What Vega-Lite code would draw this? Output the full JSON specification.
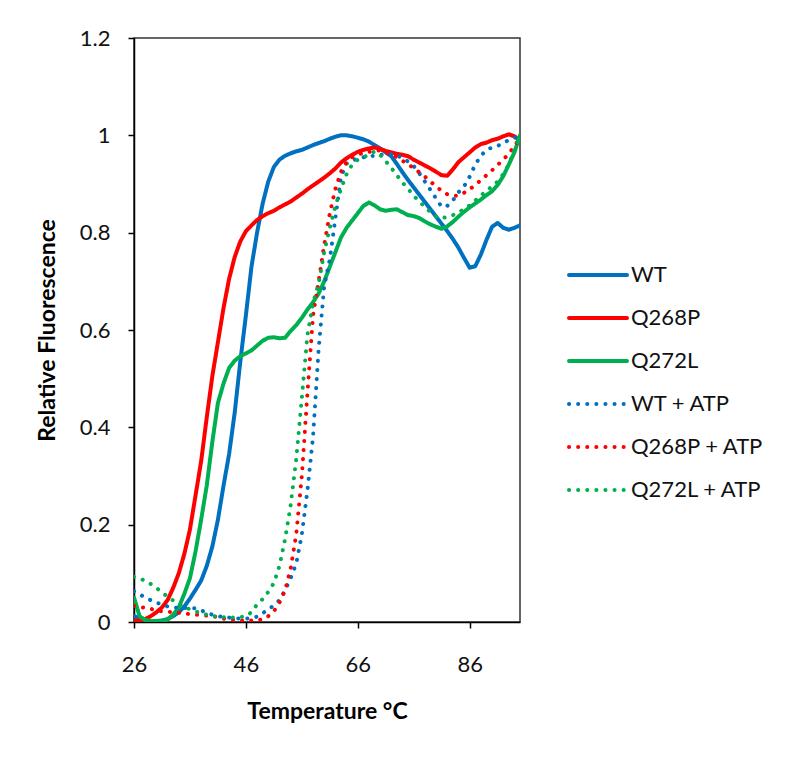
{
  "$schema": "https://vega.github.io/schema/vega-lite/v6.json",
  "width": 386,
  "height": 584,
  "autosize": {"type": "none"},
  "padding": {"left": 134, "top": 38, "right": 280, "bottom": 139},
  "background": "white",
  "config": {
    "view": {"stroke": "#333", "strokeWidth": 1.5},
    "font": "Lato"
  },
  "data": {
    "values": [
      {"t":26,"WT":0.012,"Q268P":0.003,"Q272L":0.05,"WT + ATP":0.063,"Q268P + ATP":0.033,"Q272L + ATP":0.093},
      {"t":27,"WT":0.008,"Q268P":0.003,"Q272L":0.012,"WT + ATP":0.057,"Q268P + ATP":0.031,"Q272L + ATP":0.089},
      {"t":28,"WT":0.004,"Q268P":0.006,"Q272L":0.004,"WT + ATP":0.05,"Q268P + ATP":0.029,"Q272L + ATP":0.085},
      {"t":29,"WT":0.002,"Q268P":0.012,"Q272L":0.002,"WT + ATP":0.045,"Q268P + ATP":0.027,"Q272L + ATP":0.078},
      {"t":30,"WT":0.002,"Q268P":0.02,"Q272L":0.002,"WT + ATP":0.04,"Q268P + ATP":0.024,"Q272L + ATP":0.07},
      {"t":31,"WT":0.003,"Q268P":0.03,"Q272L":0.002,"WT + ATP":0.036,"Q268P + ATP":0.022,"Q272L + ATP":0.061},
      {"t":32,"WT":0.006,"Q268P":0.045,"Q272L":0.005,"WT + ATP":0.032,"Q268P + ATP":0.021,"Q272L + ATP":0.052},
      {"t":33,"WT":0.012,"Q268P":0.07,"Q272L":0.015,"WT + ATP":0.03,"Q268P + ATP":0.02,"Q272L + ATP":0.044},
      {"t":34,"WT":0.02,"Q268P":0.1,"Q272L":0.03,"WT + ATP":0.029,"Q268P + ATP":0.019,"Q272L + ATP":0.037},
      {"t":35,"WT":0.032,"Q268P":0.14,"Q272L":0.058,"WT + ATP":0.029,"Q268P + ATP":0.018,"Q272L + ATP":0.031},
      {"t":36,"WT":0.048,"Q268P":0.19,"Q272L":0.09,"WT + ATP":0.029,"Q268P + ATP":0.016,"Q272L + ATP":0.026},
      {"t":37,"WT":0.066,"Q268P":0.26,"Q272L":0.145,"WT + ATP":0.028,"Q268P + ATP":0.015,"Q272L + ATP":0.022},
      {"t":38,"WT":0.085,"Q268P":0.33,"Q272L":0.21,"WT + ATP":0.024,"Q268P + ATP":0.014,"Q272L + ATP":0.018},
      {"t":39,"WT":0.115,"Q268P":0.42,"Q272L":0.28,"WT + ATP":0.019,"Q268P + ATP":0.013,"Q272L + ATP":0.015},
      {"t":40,"WT":0.155,"Q268P":0.505,"Q272L":0.37,"WT + ATP":0.015,"Q268P + ATP":0.012,"Q272L + ATP":0.012},
      {"t":41,"WT":0.21,"Q268P":0.575,"Q272L":0.45,"WT + ATP":0.012,"Q268P + ATP":0.01,"Q272L + ATP":0.011},
      {"t":42,"WT":0.28,"Q268P":0.645,"Q272L":0.49,"WT + ATP":0.01,"Q268P + ATP":0.007,"Q272L + ATP":0.01},
      {"t":43,"WT":0.345,"Q268P":0.705,"Q272L":0.522,"WT + ATP":0.009,"Q268P + ATP":0.005,"Q272L + ATP":0.009},
      {"t":44,"WT":0.43,"Q268P":0.75,"Q272L":0.537,"WT + ATP":0.008,"Q268P + ATP":0.004,"Q272L + ATP":0.009},
      {"t":45,"WT":0.535,"Q268P":0.782,"Q272L":0.546,"WT + ATP":0.007,"Q268P + ATP":0.003,"Q272L + ATP":0.01},
      {"t":46,"WT":0.63,"Q268P":0.803,"Q272L":0.552,"WT + ATP":0.007,"Q268P + ATP":0.003,"Q272L + ATP":0.012},
      {"t":47,"WT":0.73,"Q268P":0.815,"Q272L":0.558,"WT + ATP":0.008,"Q268P + ATP":0.003,"Q272L + ATP":0.02},
      {"t":48,"WT":0.8,"Q268P":0.826,"Q272L":0.568,"WT + ATP":0.011,"Q268P + ATP":0.004,"Q272L + ATP":0.036},
      {"t":49,"WT":0.86,"Q268P":0.834,"Q272L":0.578,"WT + ATP":0.018,"Q268P + ATP":0.005,"Q272L + ATP":0.047},
      {"t":50,"WT":0.905,"Q268P":0.84,"Q272L":0.584,"WT + ATP":0.026,"Q268P + ATP":0.012,"Q272L + ATP":0.062},
      {"t":51,"WT":0.935,"Q268P":0.845,"Q272L":0.585,"WT + ATP":0.034,"Q268P + ATP":0.022,"Q272L + ATP":0.08},
      {"t":52,"WT":0.95,"Q268P":0.852,"Q272L":0.583,"WT + ATP":0.045,"Q268P + ATP":0.04,"Q272L + ATP":0.115},
      {"t":53,"WT":0.958,"Q268P":0.858,"Q272L":0.584,"WT + ATP":0.065,"Q268P + ATP":0.065,"Q272L + ATP":0.17},
      {"t":54,"WT":0.963,"Q268P":0.864,"Q272L":0.598,"WT + ATP":0.09,"Q268P + ATP":0.11,"Q272L + ATP":0.24},
      {"t":55,"WT":0.967,"Q268P":0.872,"Q272L":0.61,"WT + ATP":0.12,"Q268P + ATP":0.18,"Q272L + ATP":0.335},
      {"t":56,"WT":0.97,"Q268P":0.88,"Q272L":0.625,"WT + ATP":0.18,"Q268P + ATP":0.3,"Q272L + ATP":0.46},
      {"t":57,"WT":0.975,"Q268P":0.889,"Q272L":0.642,"WT + ATP":0.27,"Q268P + ATP":0.47,"Q272L + ATP":0.59},
      {"t":58,"WT":0.98,"Q268P":0.897,"Q272L":0.657,"WT + ATP":0.38,"Q268P + ATP":0.63,"Q272L + ATP":0.655},
      {"t":59,"WT":0.984,"Q268P":0.905,"Q272L":0.675,"WT + ATP":0.56,"Q268P + ATP":0.7,"Q272L + ATP":0.695},
      {"t":60,"WT":0.988,"Q268P":0.913,"Q272L":0.7,"WT + ATP":0.69,"Q268P + ATP":0.775,"Q272L + ATP":0.76},
      {"t":61,"WT":0.993,"Q268P":0.922,"Q272L":0.73,"WT + ATP":0.745,"Q268P + ATP":0.84,"Q272L + ATP":0.81},
      {"t":62,"WT":0.997,"Q268P":0.932,"Q272L":0.76,"WT + ATP":0.83,"Q268P + ATP":0.89,"Q272L + ATP":0.855},
      {"t":63,"WT":1.0,"Q268P":0.944,"Q272L":0.79,"WT + ATP":0.915,"Q268P + ATP":0.925,"Q272L + ATP":0.89},
      {"t":64,"WT":1.0,"Q268P":0.953,"Q272L":0.81,"WT + ATP":0.942,"Q268P + ATP":0.945,"Q272L + ATP":0.92},
      {"t":65,"WT":0.998,"Q268P":0.96,"Q272L":0.825,"WT + ATP":0.948,"Q268P + ATP":0.955,"Q272L + ATP":0.94},
      {"t":66,"WT":0.995,"Q268P":0.966,"Q272L":0.84,"WT + ATP":0.952,"Q268P + ATP":0.96,"Q272L + ATP":0.95},
      {"t":67,"WT":0.992,"Q268P":0.97,"Q272L":0.855,"WT + ATP":0.955,"Q268P + ATP":0.964,"Q272L + ATP":0.955},
      {"t":68,"WT":0.987,"Q268P":0.973,"Q272L":0.862,"WT + ATP":0.957,"Q268P + ATP":0.966,"Q272L + ATP":0.96},
      {"t":69,"WT":0.98,"Q268P":0.975,"Q272L":0.856,"WT + ATP":0.958,"Q268P + ATP":0.968,"Q272L + ATP":0.967},
      {"t":70,"WT":0.973,"Q268P":0.972,"Q272L":0.848,"WT + ATP":0.96,"Q268P + ATP":0.969,"Q272L + ATP":0.96},
      {"t":71,"WT":0.965,"Q268P":0.968,"Q272L":0.845,"WT + ATP":0.961,"Q268P + ATP":0.965,"Q272L + ATP":0.947},
      {"t":72,"WT":0.957,"Q268P":0.965,"Q272L":0.847,"WT + ATP":0.962,"Q268P + ATP":0.96,"Q272L + ATP":0.933},
      {"t":73,"WT":0.941,"Q268P":0.962,"Q272L":0.848,"WT + ATP":0.958,"Q268P + ATP":0.955,"Q272L + ATP":0.918},
      {"t":74,"WT":0.924,"Q268P":0.96,"Q272L":0.842,"WT + ATP":0.954,"Q268P + ATP":0.948,"Q272L + ATP":0.903},
      {"t":75,"WT":0.908,"Q268P":0.957,"Q272L":0.836,"WT + ATP":0.946,"Q268P + ATP":0.94,"Q272L + ATP":0.89},
      {"t":76,"WT":0.893,"Q268P":0.95,"Q272L":0.834,"WT + ATP":0.937,"Q268P + ATP":0.933,"Q272L + ATP":0.876},
      {"t":77,"WT":0.878,"Q268P":0.944,"Q272L":0.83,"WT + ATP":0.922,"Q268P + ATP":0.924,"Q272L + ATP":0.864},
      {"t":78,"WT":0.863,"Q268P":0.938,"Q272L":0.823,"WT + ATP":0.905,"Q268P + ATP":0.915,"Q272L + ATP":0.853},
      {"t":79,"WT":0.848,"Q268P":0.932,"Q272L":0.817,"WT + ATP":0.888,"Q268P + ATP":0.905,"Q272L + ATP":0.842},
      {"t":80,"WT":0.833,"Q268P":0.925,"Q272L":0.812,"WT + ATP":0.87,"Q268P + ATP":0.895,"Q272L + ATP":0.833},
      {"t":81,"WT":0.818,"Q268P":0.918,"Q272L":0.808,"WT + ATP":0.853,"Q268P + ATP":0.886,"Q272L + ATP":0.83},
      {"t":82,"WT":0.803,"Q268P":0.917,"Q272L":0.813,"WT + ATP":0.855,"Q268P + ATP":0.879,"Q272L + ATP":0.832},
      {"t":83,"WT":0.787,"Q268P":0.93,"Q272L":0.822,"WT + ATP":0.866,"Q268P + ATP":0.876,"Q272L + ATP":0.836},
      {"t":84,"WT":0.769,"Q268P":0.945,"Q272L":0.833,"WT + ATP":0.883,"Q268P + ATP":0.876,"Q272L + ATP":0.842},
      {"t":85,"WT":0.748,"Q268P":0.955,"Q272L":0.843,"WT + ATP":0.895,"Q268P + ATP":0.882,"Q272L + ATP":0.848},
      {"t":86,"WT":0.728,"Q268P":0.965,"Q272L":0.852,"WT + ATP":0.915,"Q268P + ATP":0.889,"Q272L + ATP":0.856},
      {"t":87,"WT":0.731,"Q268P":0.975,"Q272L":0.86,"WT + ATP":0.94,"Q268P + ATP":0.898,"Q272L + ATP":0.866},
      {"t":88,"WT":0.755,"Q268P":0.982,"Q272L":0.868,"WT + ATP":0.958,"Q268P + ATP":0.908,"Q272L + ATP":0.876},
      {"t":89,"WT":0.785,"Q268P":0.985,"Q272L":0.877,"WT + ATP":0.97,"Q268P + ATP":0.918,"Q272L + ATP":0.886},
      {"t":90,"WT":0.812,"Q268P":0.99,"Q272L":0.885,"WT + ATP":0.975,"Q268P + ATP":0.928,"Q272L + ATP":0.895},
      {"t":91,"WT":0.82,"Q268P":0.993,"Q272L":0.898,"WT + ATP":0.978,"Q268P + ATP":0.939,"Q272L + ATP":0.905},
      {"t":92,"WT":0.81,"Q268P":0.998,"Q272L":0.916,"WT + ATP":0.985,"Q268P + ATP":0.95,"Q272L + ATP":0.92},
      {"t":93,"WT":0.806,"Q268P":1.002,"Q272L":0.94,"WT + ATP":0.99,"Q268P + ATP":0.962,"Q272L + ATP":0.94},
      {"t":94,"WT":0.81,"Q268P":0.998,"Q272L":0.965,"WT + ATP":0.995,"Q268P + ATP":0.978,"Q272L + ATP":0.97},
      {"t":95,"WT":0.815,"Q268P":0.99,"Q272L":1.0,"WT + ATP":0.997,"Q268P + ATP":0.995,"Q272L + ATP":1.0}
    ]
  },
  "transform": [
    {"fold": ["WT", "Q268P", "Q272L", "WT + ATP", "Q268P + ATP", "Q272L + ATP"], "as": ["series", "value"]}
  ],
  "mark": {"type": "line", "strokeWidth": 4, "strokeCap": "round", "strokeJoin": "round", "clip": true},
  "encoding": {
    "x": {
      "field": "t", "type": "quantitative",
      "scale": {"domain": [26, 95], "nice": false, "zero": false},
      "axis": {
        "values": [26, 46, 66, 86], "title": "Temperature °C", "grid": false,
        "tickSize": 6, "tickWidth": 1.5, "tickColor": "#000", "domainColor": "#000", "domainWidth": 1.5,
        "labelFont": "Lato", "labelFontSize": 22, "labelColor": "#111", "labelPadding": 26, "labelFlush": false,
        "titleFont": "Lato", "titleFontSize": 23, "titleFontWeight": "bold", "titleColor": "#000", "titlePadding": 25
      }
    },
    "y": {
      "field": "value", "type": "quantitative",
      "scale": {"domain": [0, 1.2], "nice": false},
      "axis": {
        "values": [0, 0.2, 0.4, 0.6, 0.8, 1, 1.2], "format": "~g", "title": "Relative Fluorescence", "grid": false,
        "tickSize": 6, "tickWidth": 1.5, "tickColor": "#000", "domainColor": "#000", "domainWidth": 1.5,
        "labelFont": "Lato", "labelFontSize": 22, "labelColor": "#111", "labelPadding": 18,
        "titleFont": "Lato", "titleFontSize": 23, "titleFontWeight": "bold", "titleColor": "#000", "titlePadding": 20
      }
    },
    "color": {
      "field": "series", "type": "nominal",
      "scale": {
        "domain": ["WT", "Q268P", "Q272L", "WT + ATP", "Q268P + ATP", "Q272L + ATP"],
        "range": ["#0070C0", "#FF0000", "#00B050", "#0070C0", "#FF0000", "#00B050"]
      },
      "legend": {
        "title": null, "orient": "none", "legendX": 433, "legendY": 206,
        "symbolType": "stroke", "symbolSize": 3364, "symbolStrokeWidth": 4,
        "labelFont": "Lato", "labelFontSize": 22, "labelColor": "#111", "labelOffset": 2,
        "rowPadding": 1,
        "encode": {"symbols": {"update": {"strokeCap": {"value": "round"}}}}
      }
    },
    "strokeDash": {
      "field": "series", "type": "nominal",
      "scale": {
        "domain": ["WT", "Q268P", "Q272L", "WT + ATP", "Q268P + ATP", "Q272L + ATP"],
        "range": [[1, 0], [1, 0], [1, 0], [0.1, 9], [0.1, 9], [0.1, 9]]
      },
      "legend": {
        "title": null, "orient": "none", "legendX": 433, "legendY": 206,
        "symbolType": "stroke", "symbolSize": 3364, "symbolStrokeWidth": 4,
        "labelFont": "Lato", "labelFontSize": 22, "labelColor": "#111", "labelOffset": 2,
        "rowPadding": 1,
        "encode": {"symbols": {"update": {"strokeCap": {"value": "round"}}}}
      }
    }
  }
}
